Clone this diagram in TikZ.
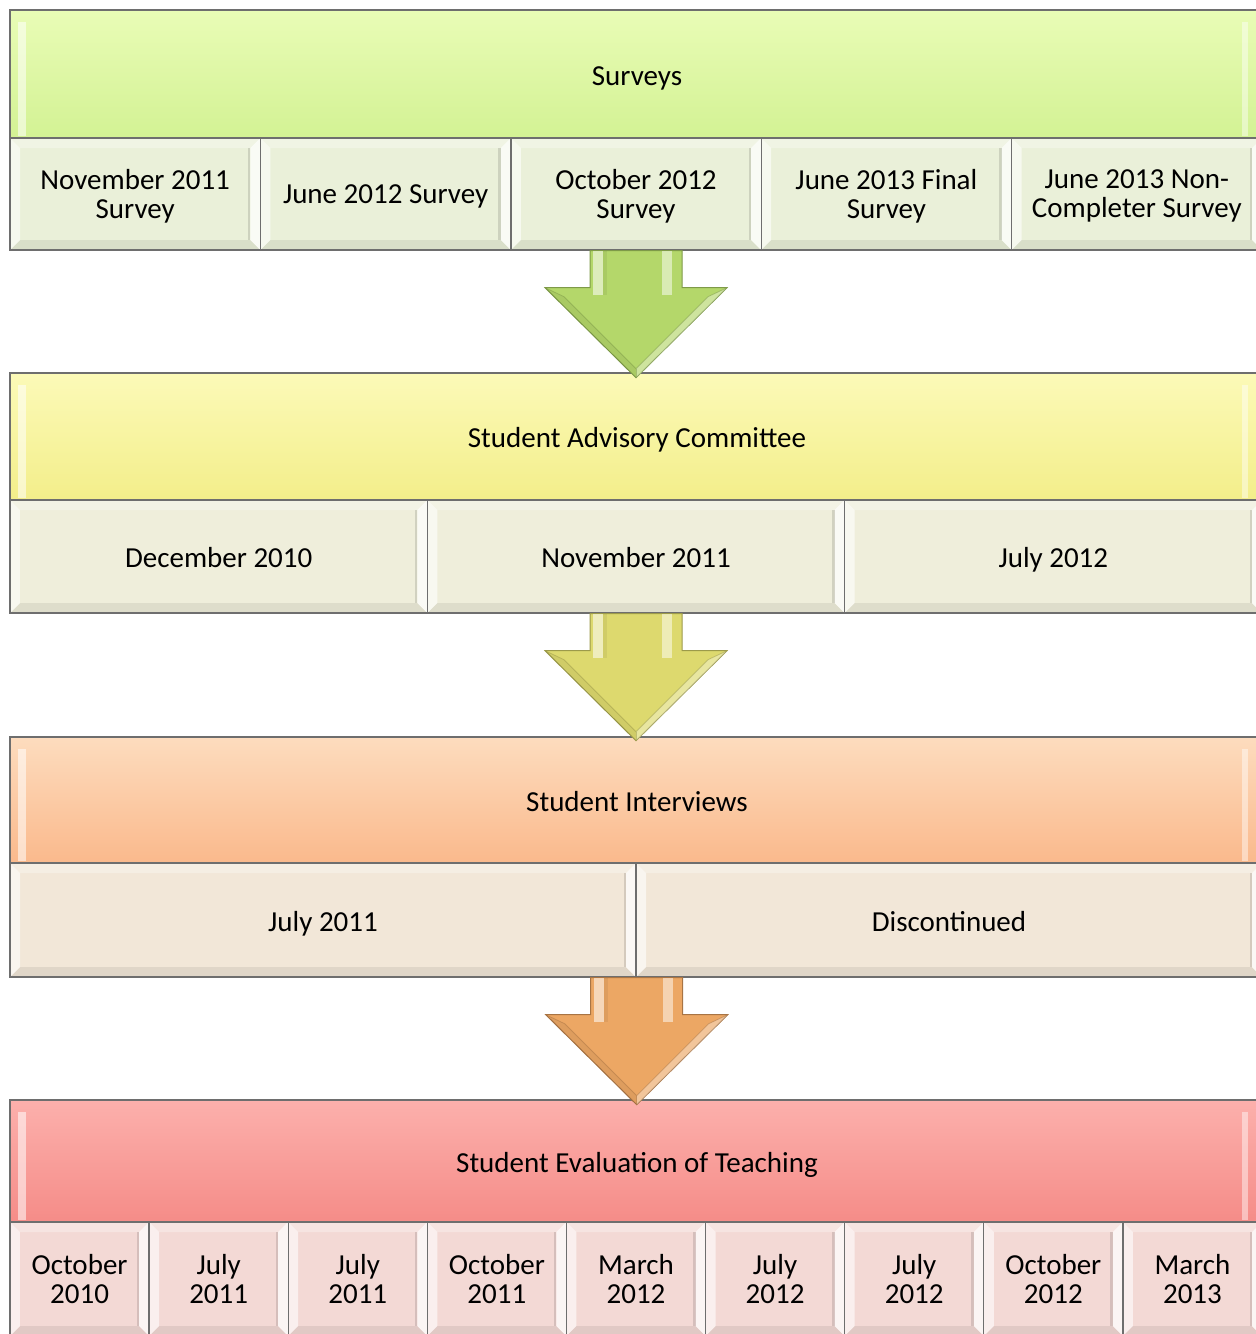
\documentclass[tikz,border=0pt]{standalone}
\usepackage{fontspec}
\setmainfont{Carlito}
\usetikzlibrary{calc}

\definecolor{edgeGray}{HTML}{6E6E6E}
\definecolor{srvTop}{HTML}{E9FCB6}
\definecolor{srvBot}{HTML}{D3F294}
\definecolor{srvSub}{HTML}{EAF0D9}
\definecolor{srvArrow}{HTML}{B4D76A}
\definecolor{srvArrowEdge}{HTML}{7E9A48}
\definecolor{sacTop}{HTML}{FCFAB8}
\definecolor{sacBot}{HTML}{F3EE8A}
\definecolor{sacSub}{HTML}{EFEEDB}
\definecolor{sacArrow}{HTML}{DDD96E}
\definecolor{sacArrowEdge}{HTML}{9C9A4A}
\definecolor{intTop}{HTML}{FDDCBE}
\definecolor{intBot}{HTML}{FAB98C}
\definecolor{intSub}{HTML}{F2E7D8}
\definecolor{intArrow}{HTML}{ECA764}
\definecolor{intArrowEdge}{HTML}{A87444}
\definecolor{setTop}{HTML}{FCB0AC}
\definecolor{setBot}{HTML}{F58C88}
\definecolor{setSub}{HTML}{F3D9D5}

\tikzset{
  headbox/.style={draw=edgeGray, line width=0.7pt, minimum width=627pt,
    minimum height=#1, inner sep=0pt, font=\fontsize{14.5}{14.5}\selectfont,
    text height=13pt, text depth=2pt,
    path picture={
      \fill[white, opacity=0.55]
        ($(path picture bounding box.north west)+(4pt,-6pt)$) rectangle
        ($(path picture bounding box.south west)+(8pt,1pt)$);
      \fill[white, opacity=0.45]
        ($(path picture bounding box.north east)+(-11pt,-6pt)$) rectangle
        ($(path picture bounding box.south east)+(-8pt,1pt)$);
    }},
  subbox/.style={draw=edgeGray, line width=0.7pt, minimum width=#1,
    minimum height=56.5pt, inner sep=0pt, align=center,
    font=\fontsize{14.5}{14.5}\selectfont,
    path picture={
      \path (path picture bounding box.south west) coordinate (bvA)
            (path picture bounding box.north west) coordinate (bvB)
            (path picture bounding box.north east) coordinate (bvC)
            (path picture bounding box.south east) coordinate (bvD);
      %上、下斜面
      \fill[white, opacity=0.3] (bvB) -- (bvC) -- ++(-5pt,-5pt) -- ($(bvB)+(5pt,-5pt)$) -- cycle;
      \fill[black, opacity=0.07] (bvA) -- ++(5pt,5pt) -- ($(bvD)+(-5pt,5pt)$) -- (bvD) -- cycle;
      %左、右亮邊
      \fill[white, opacity=0.6] (bvB) -- ++(5pt,-5pt) -- ($(bvA)+(5pt,5pt)$) -- (bvA) -- cycle;
      \fill[white, opacity=0.75] (bvC) -- ++(-5pt,-5pt) -- ($(bvD)+(-5pt,5pt)$) -- (bvD) -- cycle;
      \draw[black, opacity=0.12, line width=1.2pt] ($(bvC)+(-5.6pt,-5pt)$) -- ($(bvD)+(-5.6pt,5pt)$);
    }},
  oneline/.style={text height=13pt, text depth=2pt},
}

%向下的粗箭頭: #1 上方中點, #2 填色, #3 邊線色
\newcommand{\flowarrow}[3]{%
  \fill[#2, draw=#3, line width=0.5pt]
    (#1) ++(-23pt,0) -- ++(46pt,0) -- ++(0,-18.5pt) -- ++(22.5pt,0)
    -- ++(-45.5pt,-45pt) -- ++(-45.5pt,45pt) -- ++(22.5pt,0) -- cycle;
  \fill[white, opacity=0.55] (#1) ++(-21.5pt,0) rectangle ++(5pt,-22pt);
  \fill[black, opacity=0.06] (#1) ++(-16.5pt,0) rectangle ++(2pt,-22pt);
  \fill[white, opacity=0.5] (#1) ++(13pt,0) rectangle ++(5pt,-22pt);
  %箭頭斜面
  \fill[white, opacity=0.35]
    (#1) ++(45.5pt,-18.5pt) -- ++(-45.5pt,-45pt) -- ++(0,4.5pt) -- ++(36pt,36pt) -- cycle;
  \fill[black, opacity=0.06]
    (#1) ++(-45.5pt,-18.5pt) -- ++(45.5pt,-45pt) -- ++(0,4.5pt) -- ++(-36pt,36pt) -- cycle;
  \draw[#3, opacity=0.5, line width=0.4pt]
    (#1) ++(-45.5pt,-18.5pt) -- ++(9.5pt,-4.5pt) -- ++(36pt,-36pt) -- ++(36pt,36pt) -- ++(9.5pt,4.5pt);
  \draw[#3, opacity=0.5, line width=0.4pt] (#1) ++(0,-59pt) -- ++(0,-4.5pt);
}

\begin{document}
\begin{tikzpicture}[x=0.5pt, y=-0.5pt]
  \useasboundingbox (0,0) rectangle (1256,1334);
  \clip (0,0) rectangle (1256,1334);

  %Surveys
  \node[headbox=64pt, top color=srvTop, bottom color=srvBot] (HeadSrv) at (637,74) {Surveys};
  \foreach \lbl [count=\i] in {{November 2011\\Survey},{June 2012 Survey},{October 2012\\Survey},
      {June 2013 Final\\Survey},{June 2013 Non-\\Completer Survey}}
    \node[subbox=125.2pt, minimum height=56pt, fill=srvSub, text depth=0pt] (SrvSub\i) at ({10+(\i-0.5)*250.4},194) {\lbl};

  %Student Advisory Committee
  \node[headbox=63.5pt, top color=sacTop, bottom color=sacBot] (HeadSac) at (637,436.5) {Student Advisory Committee};
  \foreach \lbl [count=\i] in {December 2010, November 2011, July 2012}
    \node[subbox=208.67pt, oneline, fill=sacSub] (SacSub\i) at ({10+(\i-0.5)*417.33},556.5) {\lbl};

  %Student Interviews
  \node[headbox=63pt, top color=intTop, bottom color=intBot] (HeadInt) at (637,800) {Student Interviews};
  \foreach \lbl [count=\i] in {July 2011, Discontinued}
    \node[subbox=313pt, oneline, minimum height=57pt, fill=intSub] (IntSub\i) at ({10+(\i-0.5)*626},920) {\lbl};

  %Student Evaluation of Teaching
  \node[headbox=61pt, top color=setTop, bottom color=setBot] (HeadSet) at (637,1161) {Student Evaluation of Teaching};
  \foreach \lbl [count=\i] in {{October\\2010},{July\\2011},{July\\2011},{October\\2011},{March\\2012},
      {July\\2012},{July\\2012},{October\\2012},{March\\2013}}
    \node[subbox=69.56pt, minimum height=57pt, fill=setSub] (SetSub\i) at ({10+(\i-0.5)*139.11},1279) {\lbl};

  %箭頭
  \flowarrow{SrvSub3.south}{srvArrow}{srvArrowEdge}
  \flowarrow{SacSub2.south}{sacArrow}{sacArrowEdge}
  \flowarrow{IntSub1.south east}{intArrow}{intArrowEdge}
\end{tikzpicture}
\end{document}
